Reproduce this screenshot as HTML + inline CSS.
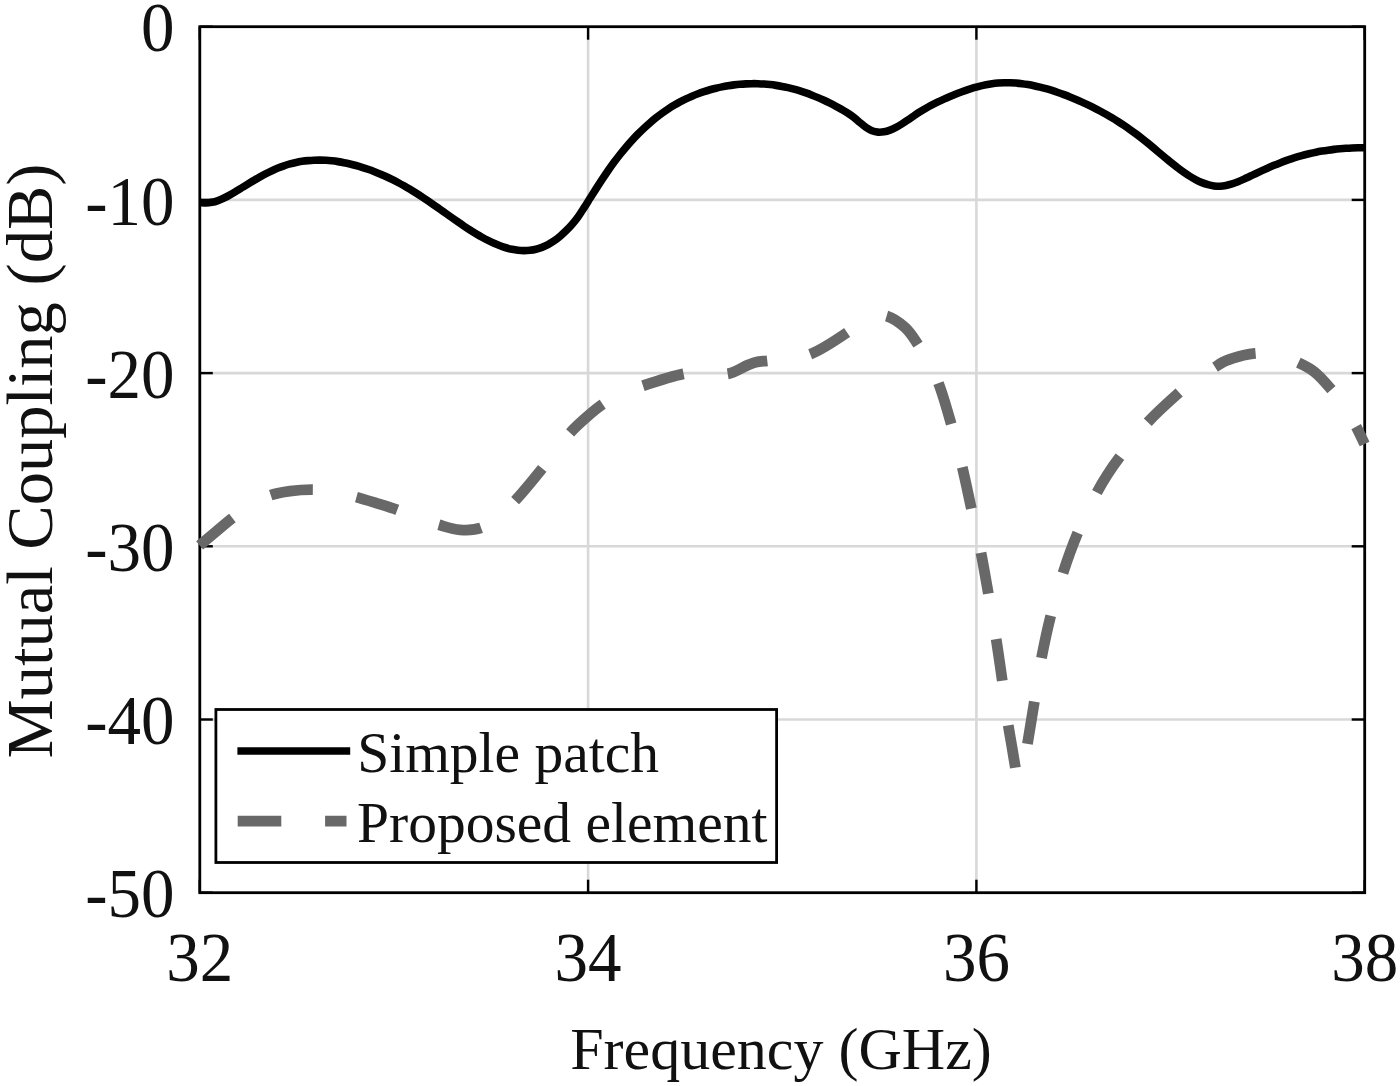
<!DOCTYPE html>
<html><head><meta charset="utf-8"><style>
html,body{margin:0;padding:0;background:#fff;}
svg{display:block;}
text{font-family:"Liberation Serif",serif;fill:#111;}
</style></head><body>
<svg width="1400" height="1086" viewBox="0 0 1400 1086">
<rect width="1400" height="1086" fill="#fff"/>
<g stroke="#d8d8d8" stroke-width="2.6"><line x1="588.10" y1="26.70" x2="588.10" y2="892.70"/><line x1="976.40" y1="26.70" x2="976.40" y2="892.70"/><line x1="199.80" y1="199.90" x2="1364.70" y2="199.90"/><line x1="199.80" y1="373.10" x2="1364.70" y2="373.10"/><line x1="199.80" y1="546.30" x2="1364.70" y2="546.30"/><line x1="199.80" y1="719.50" x2="1364.70" y2="719.50"/></g>
<g stroke="#000" stroke-width="2.4"><line x1="199.80" y1="892.70" x2="199.80" y2="879.70"/><line x1="199.80" y1="26.70" x2="199.80" y2="39.70"/><line x1="588.10" y1="892.70" x2="588.10" y2="879.70"/><line x1="588.10" y1="26.70" x2="588.10" y2="39.70"/><line x1="976.40" y1="892.70" x2="976.40" y2="879.70"/><line x1="976.40" y1="26.70" x2="976.40" y2="39.70"/><line x1="1364.70" y1="892.70" x2="1364.70" y2="879.70"/><line x1="1364.70" y1="26.70" x2="1364.70" y2="39.70"/><line x1="199.80" y1="26.70" x2="212.80" y2="26.70"/><line x1="1364.70" y1="26.70" x2="1351.70" y2="26.70"/><line x1="199.80" y1="199.90" x2="212.80" y2="199.90"/><line x1="1364.70" y1="199.90" x2="1351.70" y2="199.90"/><line x1="199.80" y1="373.10" x2="212.80" y2="373.10"/><line x1="1364.70" y1="373.10" x2="1351.70" y2="373.10"/><line x1="199.80" y1="546.30" x2="212.80" y2="546.30"/><line x1="1364.70" y1="546.30" x2="1351.70" y2="546.30"/><line x1="199.80" y1="719.50" x2="212.80" y2="719.50"/><line x1="1364.70" y1="719.50" x2="1351.70" y2="719.50"/><line x1="199.80" y1="892.70" x2="212.80" y2="892.70"/><line x1="1364.70" y1="892.70" x2="1351.70" y2="892.70"/></g>
<rect x="199.80" y="26.70" width="1164.90" height="866.00" fill="none" stroke="#000" stroke-width="2.8"/>
<path d="M200.00 202.49C202.00 202.67 204.00 203.06 206.00 203.03C208.00 203.01 210.02 202.72 212.00 202.32C214.02 201.91 216.02 201.28 218.00 200.57C220.02 199.84 222.02 198.94 224.00 198.00C226.02 197.03 228.01 195.94 230.00 194.84C232.01 193.71 234.01 192.50 236.00 191.30C238.01 190.10 240.00 188.85 242.00 187.62C244.00 186.40 246.00 185.17 248.00 183.96C250.00 182.75 251.99 181.55 254.00 180.37C255.99 179.20 257.99 178.05 260.00 176.93C261.99 175.82 263.99 174.73 266.00 173.69C267.99 172.66 269.99 171.66 272.00 170.72C273.99 169.79 275.99 168.90 278.00 168.08C279.99 167.27 281.99 166.51 284.00 165.82C285.99 165.13 287.99 164.51 290.00 163.95C291.99 163.40 293.99 162.91 296.00 162.47C297.99 162.04 300.00 161.67 302.00 161.36C304.00 161.05 306.00 160.80 308.00 160.60C310.00 160.41 312.00 160.27 314.00 160.19C316.00 160.10 318.00 160.07 320.00 160.09C322.00 160.11 324.00 160.19 326.00 160.31C328.00 160.43 330.00 160.61 332.00 160.82C334.00 161.04 336.00 161.31 338.00 161.62C340.00 161.93 342.00 162.28 344.00 162.68C346.00 163.07 348.00 163.51 350.00 163.99C352.00 164.46 354.00 164.98 356.00 165.53C358.00 166.09 360.01 166.68 362.00 167.30C364.01 167.93 366.01 168.59 368.00 169.29C370.01 169.99 372.01 170.72 374.00 171.49C376.01 172.26 378.01 173.07 380.00 173.91C382.01 174.75 384.01 175.63 386.00 176.55C388.01 177.47 390.01 178.42 392.00 179.41C394.01 180.41 396.01 181.44 398.00 182.50C400.01 183.57 402.01 184.68 404.00 185.82C406.01 186.96 408.01 188.14 410.00 189.34C412.01 190.55 414.01 191.80 416.00 193.06C418.01 194.32 420.01 195.62 422.00 196.93C424.01 198.25 426.00 199.59 428.00 200.94C430.00 202.29 432.00 203.67 434.00 205.05C436.00 206.43 438.00 207.84 440.00 209.24C442.00 210.65 444.00 212.07 446.00 213.48C448.00 214.90 450.00 216.32 452.00 217.73C454.00 219.14 456.00 220.54 458.00 221.93C460.00 223.31 461.99 224.68 464.00 226.03C465.99 227.37 467.99 228.69 470.00 229.98C471.99 231.26 473.99 232.52 476.00 233.74C477.99 234.94 479.99 236.12 482.00 237.25C483.99 238.36 485.99 239.44 488.00 240.45C489.99 241.46 491.99 242.42 494.00 243.31C495.99 244.19 497.99 245.02 500.00 245.77C501.99 246.51 503.99 247.19 506.00 247.77C507.99 248.36 509.99 248.87 512.00 249.28C513.99 249.69 515.99 250.02 518.00 250.23C519.99 250.45 522.00 250.58 524.00 250.59C526.00 250.59 528.01 250.50 530.00 250.27C532.01 250.04 534.02 249.70 536.00 249.22C538.02 248.73 540.02 248.11 542.00 247.36C544.02 246.58 546.03 245.67 548.00 244.62C550.03 243.53 552.04 242.29 554.00 240.94C556.04 239.53 558.04 237.97 560.00 236.31C562.04 234.60 564.03 232.74 566.00 230.81C568.04 228.80 570.05 226.71 572.00 224.46C574.05 222.10 576.06 219.62 578.00 216.95C580.07 214.11 582.02 210.94 584.00 207.86C586.02 204.73 588.00 201.51 590.00 198.34C592.00 195.18 593.99 192.01 596.00 188.88C597.99 185.78 599.99 182.68 602.00 179.64C603.99 176.64 605.98 173.66 608.00 170.75C609.98 167.90 611.98 165.10 614.00 162.36C615.98 159.69 617.98 157.07 620.00 154.51C621.98 152.01 623.98 149.57 626.00 147.19C627.98 144.86 629.98 142.58 632.00 140.37C633.98 138.20 635.98 136.09 638.00 134.04C639.98 132.03 641.98 130.07 644.00 128.18C645.98 126.32 647.98 124.51 650.00 122.77C651.98 121.06 653.98 119.40 656.00 117.80C657.98 116.23 659.98 114.71 662.00 113.25C663.98 111.81 665.99 110.42 668.00 109.10C669.99 107.79 671.99 106.53 674.00 105.33C675.99 104.14 677.99 103.01 680.00 101.93C681.99 100.86 683.99 99.84 686.00 98.87C687.99 97.91 689.99 97.01 692.00 96.15C693.99 95.30 695.99 94.49 698.00 93.74C699.99 92.98 701.99 92.28 704.00 91.62C705.99 90.96 707.99 90.35 710.00 89.78C711.99 89.21 714.00 88.69 716.00 88.20C718.00 87.72 720.00 87.27 722.00 86.87C724.00 86.46 726.00 86.09 728.00 85.76C730.00 85.43 732.00 85.14 734.00 84.89C736.00 84.64 738.00 84.42 740.00 84.25C742.00 84.08 744.00 83.94 746.00 83.85C748.00 83.75 750.00 83.69 752.00 83.68C754.00 83.66 756.00 83.68 758.00 83.74C760.00 83.81 762.00 83.91 764.00 84.05C766.00 84.19 768.00 84.37 770.00 84.59C772.00 84.81 774.00 85.08 776.00 85.38C778.00 85.68 780.00 86.02 782.00 86.40C784.00 86.78 786.00 87.21 788.00 87.67C790.00 88.13 792.01 88.64 794.00 89.18C796.01 89.72 798.01 90.31 800.00 90.93C802.01 91.56 804.01 92.23 806.00 92.93C808.01 93.64 810.01 94.39 812.00 95.17C814.01 95.95 816.01 96.78 818.00 97.63C820.01 98.49 822.01 99.39 824.00 100.31C826.01 101.25 828.01 102.21 830.00 103.21C832.01 104.21 834.01 105.24 836.00 106.30C838.01 107.37 840.01 108.45 842.00 109.59C844.01 110.75 846.03 111.91 848.00 113.21C850.03 114.54 852.03 115.96 854.00 117.50C856.03 119.08 857.99 120.91 860.00 122.58C861.99 124.23 863.94 126.04 866.00 127.43C867.94 128.75 869.94 129.98 872.00 130.76C873.95 131.51 875.99 131.95 878.00 132.13C879.99 132.29 882.02 132.13 884.00 131.81C886.02 131.47 888.03 130.84 890.00 130.12C892.03 129.37 894.03 128.39 896.00 127.37C898.03 126.31 900.02 125.09 902.00 123.86C904.02 122.60 906.01 121.24 908.00 119.89C910.01 118.54 911.99 117.13 914.00 115.78C915.99 114.44 917.99 113.09 920.00 111.83C921.99 110.57 923.99 109.37 926.00 108.22C927.99 107.08 929.99 105.99 932.00 104.94C933.99 103.90 935.99 102.90 938.00 101.93C939.99 100.97 941.99 100.05 944.00 99.15C945.99 98.25 948.00 97.39 950.00 96.54C952.00 95.69 954.00 94.86 956.00 94.06C958.00 93.26 959.99 92.48 962.00 91.74C963.99 91.00 965.99 90.28 968.00 89.61C969.99 88.94 971.99 88.30 974.00 87.70C975.99 87.12 977.99 86.56 980.00 86.07C981.99 85.57 983.99 85.12 986.00 84.73C987.99 84.34 990.00 84.00 992.00 83.72C994.00 83.45 996.00 83.23 998.00 83.07C1000.00 82.91 1002.00 82.81 1004.00 82.76C1006.00 82.71 1008.00 82.71 1010.00 82.77C1012.00 82.82 1014.00 82.93 1016.00 83.08C1018.00 83.23 1020.00 83.44 1022.00 83.69C1024.00 83.93 1026.00 84.23 1028.00 84.56C1030.00 84.90 1032.00 85.28 1034.00 85.70C1036.00 86.12 1038.00 86.58 1040.00 87.07C1042.00 87.57 1044.00 88.11 1046.00 88.67C1048.00 89.24 1050.00 89.85 1052.00 90.48C1054.00 91.12 1056.00 91.79 1058.00 92.48C1060.00 93.18 1062.00 93.91 1064.00 94.66C1066.00 95.41 1068.00 96.19 1070.00 96.99C1072.00 97.80 1074.00 98.63 1076.00 99.48C1078.00 100.33 1080.00 101.21 1082.00 102.11C1084.00 103.02 1086.01 103.95 1088.00 104.91C1090.01 105.87 1092.01 106.85 1094.00 107.87C1096.01 108.88 1098.01 109.93 1100.00 111.00C1102.01 112.08 1104.01 113.18 1106.00 114.32C1108.01 115.46 1110.01 116.63 1112.00 117.82C1114.01 119.03 1116.01 120.26 1118.00 121.52C1120.01 122.80 1122.01 124.10 1124.00 125.43C1126.01 126.78 1128.01 128.15 1130.00 129.55C1132.01 130.97 1134.01 132.41 1136.00 133.89C1138.01 135.38 1140.01 136.91 1142.00 138.46C1144.01 140.03 1146.01 141.63 1148.00 143.26C1150.01 144.90 1152.00 146.57 1154.00 148.24C1156.00 149.92 1158.00 151.63 1160.00 153.32C1162.00 155.00 1164.00 156.70 1166.00 158.37C1168.00 160.03 1169.99 161.69 1172.00 163.31C1173.99 164.91 1175.99 166.49 1178.00 168.02C1179.99 169.53 1181.98 171.01 1184.00 172.41C1185.98 173.79 1187.98 175.13 1190.00 176.37C1191.98 177.59 1193.98 178.76 1196.00 179.81C1197.98 180.83 1199.98 181.79 1202.00 182.61C1203.98 183.41 1205.98 184.12 1208.00 184.68C1209.98 185.22 1211.99 185.65 1214.00 185.91C1215.99 186.16 1218.00 186.27 1220.00 186.20C1222.00 186.13 1224.01 185.87 1226.00 185.49C1228.01 185.11 1230.01 184.55 1232.00 183.93C1234.02 183.29 1236.01 182.52 1238.00 181.72C1240.01 180.91 1242.01 180.00 1244.00 179.09C1246.01 178.18 1248.00 177.21 1250.00 176.27C1252.00 175.33 1254.00 174.37 1256.00 173.44C1258.00 172.50 1260.00 171.57 1262.00 170.66C1264.00 169.74 1266.00 168.84 1268.00 167.96C1270.00 167.07 1272.00 166.21 1274.00 165.36C1276.00 164.52 1278.00 163.70 1280.00 162.91C1282.00 162.12 1283.99 161.35 1286.00 160.62C1287.99 159.89 1289.99 159.20 1292.00 158.53C1293.99 157.87 1296.00 157.25 1298.00 156.65C1300.00 156.06 1302.00 155.51 1304.00 154.98C1306.00 154.45 1308.00 153.96 1310.00 153.50C1312.00 153.04 1314.00 152.61 1316.00 152.21C1318.00 151.81 1320.00 151.45 1322.00 151.10C1324.00 150.76 1326.00 150.45 1328.00 150.17C1330.00 149.88 1332.00 149.63 1334.00 149.40C1336.00 149.16 1338.00 148.96 1340.00 148.78C1342.00 148.60 1344.00 148.44 1346.00 148.31C1348.00 148.18 1350.00 148.07 1352.00 147.98C1354.00 147.89 1356.00 147.82 1358.00 147.78C1360.00 147.73 1362.98 147.71 1364.00 147.70C1364.35 147.70 1364.47 147.70 1364.70 147.70" fill="none" stroke="#000" stroke-width="7.6" stroke-linejoin="round"/>
<path d="M199.60 545.30C205.07 540.73 210.53 536.15 216.00 531.60C221.46 527.05 226.69 522.43 232.40 518.00C238.33 513.39 244.52 508.33 251.00 504.50C257.31 500.77 264.03 497.43 270.70 495.20C277.04 493.08 283.27 492.11 290.00 491.20C297.25 490.21 305.34 489.63 312.80 489.70C320.00 489.77 326.88 490.32 334.00 491.50C341.41 492.73 349.11 495.09 356.40 497.10C363.43 499.04 370.17 501.18 377.00 503.30C383.80 505.41 390.54 507.38 397.30 509.80C404.21 512.27 411.05 515.49 418.00 518.00C424.89 520.49 431.79 522.83 438.80 524.80C445.79 526.76 452.91 529.30 460.00 529.80C466.98 530.29 474.63 530.16 481.00 527.90C487.28 525.68 492.50 520.86 498.00 516.50C503.86 511.86 508.89 507.11 515.00 500.70C523.22 492.07 534.65 477.85 542.10 468.60C547.59 461.78 551.33 456.47 556.00 450.50C560.63 444.57 565.00 438.37 570.00 432.90C574.91 427.52 580.27 422.67 585.70 417.90C591.13 413.13 596.59 408.35 602.60 404.30C608.68 400.20 615.30 396.58 622.00 393.50C628.70 390.42 634.66 388.49 642.80 385.80C654.04 382.08 671.90 376.21 683.40 373.90C691.64 372.25 697.73 371.52 705.00 371.50C712.42 371.48 720.34 375.00 727.50 373.90C734.56 372.82 742.47 367.15 747.70 365.10C750.94 363.83 752.76 363.00 755.70 362.30C759.13 361.48 762.68 361.32 767.10 360.80C773.22 360.08 781.80 359.60 789.00 358.50C796.10 357.42 802.30 357.24 810.00 354.30C820.89 350.14 836.51 339.70 846.90 332.60C855.13 326.98 860.77 318.52 868.00 316.00C873.97 313.92 880.39 314.23 886.30 315.90C892.80 317.74 899.81 322.78 905.10 327.60C910.25 332.29 913.92 338.44 917.80 344.30C921.73 350.24 925.10 356.63 928.50 363.00C931.94 369.46 935.12 374.87 938.30 382.80C942.73 393.85 947.15 409.84 951.10 423.70C955.13 437.83 958.80 452.55 962.20 466.80C965.52 480.71 968.23 494.17 971.30 508.20C974.47 522.69 978.02 537.93 980.90 552.40C983.66 566.27 985.83 579.30 988.30 593.30C990.90 608.06 993.74 623.97 996.10 638.80C998.35 652.94 1000.22 666.20 1002.20 680.30C1004.26 694.92 1006.35 712.88 1008.20 725.00C1009.47 733.35 1010.62 739.07 1011.80 746.10C1012.98 753.13 1014.57 762.97 1015.30 767.20C1015.61 769.02 1015.47 769.75 1016.00 771.10C1016.68 772.82 1018.25 776.37 1019.50 776.50C1020.60 776.62 1022.02 774.94 1023.00 773.00C1025.21 768.64 1026.08 752.89 1026.80 748.20C1027.09 746.34 1027.11 746.12 1027.40 744.30C1028.07 740.08 1029.70 730.27 1030.85 723.25C1032.00 716.23 1032.95 710.48 1034.30 702.20C1036.25 690.28 1038.67 672.99 1041.40 658.60C1044.11 644.36 1047.06 630.38 1050.60 616.30C1054.18 602.04 1058.27 587.54 1062.80 573.60C1067.25 559.92 1071.94 546.69 1077.50 533.40C1083.18 519.82 1090.92 503.75 1096.60 493.00C1100.53 485.57 1103.55 480.58 1107.40 474.60C1111.25 468.61 1114.65 463.82 1119.70 457.10C1126.97 447.43 1137.50 433.36 1147.40 422.60C1157.18 411.98 1169.69 400.91 1178.70 392.90C1185.21 387.11 1189.96 382.77 1196.00 378.50C1201.91 374.33 1209.70 370.47 1214.50 367.50C1217.61 365.57 1219.24 364.07 1222.10 362.60C1225.40 360.91 1229.62 359.46 1233.30 358.20C1236.78 357.01 1240.05 355.99 1243.60 355.20C1247.28 354.38 1251.31 353.73 1255.00 353.40C1258.43 353.10 1261.25 352.88 1265.00 353.20C1269.94 353.63 1276.50 354.95 1282.00 356.50C1287.43 358.03 1292.56 359.95 1297.80 362.40C1303.39 365.02 1309.23 367.80 1314.50 371.90C1320.37 376.47 1325.97 383.25 1331.00 389.10C1335.76 394.63 1339.94 400.00 1344.00 406.00C1348.23 412.26 1352.27 419.44 1355.80 426.00C1359.08 432.09 1361.67 438.00 1364.60 444.00" fill="none" stroke="#686868" stroke-width="10.8" stroke-dasharray="42.68 44.82 42.61 44.40 42.83 44.16 43.06 43.80 42.02 45.32 43.43 44.42 42.33 44.49 42.11 43.50 42.89 45.58 43.36 43.66 42.87 44.51 42.39 45.23 41.57 46.16 41.95 45.10 42.79 44.84 42.66 44.18 43.30 44.42 42.82 44.70 42.74 44.26 43.17 44.05 43.38 44.24 43.13 44.57 20.04 1000.00" stroke-linejoin="round"/>
<rect x="215.9" y="709.5" width="560.7" height="153" fill="#fff" stroke="#000" stroke-width="2.8"/>
<line x1="237.4" y1="751" x2="350.2" y2="751" stroke="#000" stroke-width="7.5"/>
<line x1="237.7" y1="821.2" x2="346.5" y2="821.2" stroke="#686868" stroke-width="10.8" stroke-dasharray="43.6 43.8"/>
<g font-size="57.5">
<text x="357.2" y="772">Simple patch</text>
<text x="357" y="842">Proposed element</text>
</g>
<g font-size="67" text-anchor="end">
<text transform="translate(174.5,51.30) scale(1,1.03)">0</text><text transform="translate(174.5,224.50) scale(1,1.03)">-10</text><text transform="translate(174.5,397.70) scale(1,1.03)">-20</text><text transform="translate(174.5,570.90) scale(1,1.03)">-30</text><text transform="translate(174.5,744.10) scale(1,1.03)">-40</text><text transform="translate(174.5,917.30) scale(1,1.03)">-50</text>
</g>
<g font-size="67" text-anchor="middle">
<text transform="translate(199.80,981.3) scale(1,1.03)">32</text><text transform="translate(588.10,981.3) scale(1,1.03)">34</text><text transform="translate(976.40,981.3) scale(1,1.03)">36</text><text transform="translate(1364.70,981.3) scale(1,1.03)">38</text>
</g>
<text x="781" y="1069" font-size="60" text-anchor="middle">Frequency (GHz)</text>
<text transform="translate(52,461) rotate(-90)" font-size="66.5" text-anchor="middle">Mutual Coupling (dB)</text>
</svg>
</body></html>
